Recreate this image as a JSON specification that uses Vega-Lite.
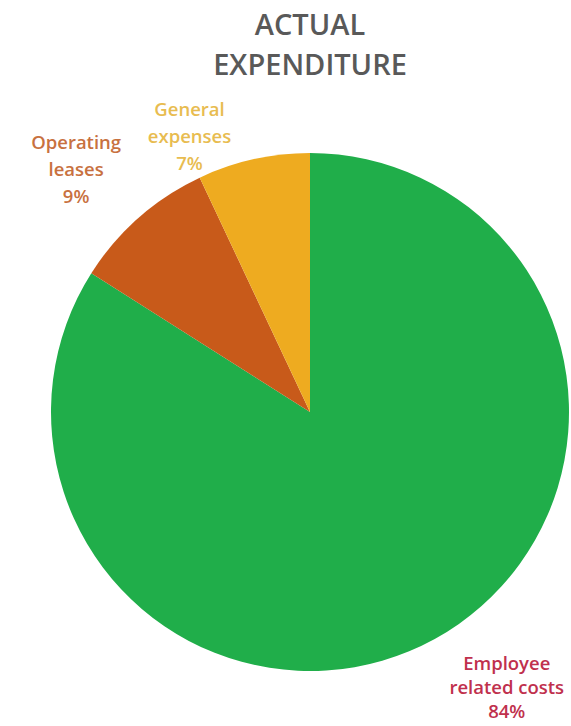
{
  "$schema": "https://vega.github.io/schema/vega-lite/v6.json",
  "autosize": "none",
  "width": 522,
  "height": 628,
  "padding": {"left": 49, "top": 98, "right": 0, "bottom": 0},
  "background": "white",
  "title": {
    "text": ["ACTUAL", "EXPENDITURE"],
    "font": "Open Sans",
    "fontSize": 29,
    "fontWeight": 600,
    "color": "#595959",
    "lineHeight": 40,
    "anchor": "middle",
    "offset": -60
  },
  "data": {
    "values": [
      {"category": "Employee related costs", "label": "Employee\nrelated costs\n84%", "value": 84},
      {"category": "Operating leases", "label": "Operating\nleases\n9%", "value": 9},
      {"category": "General expenses", "label": "General\nexpenses\n7%", "value": 7}
    ]
  },
  "view": {"stroke": null},
  "encoding": {
    "theta": {"field": "value", "type": "quantitative", "stack": true},
    "order": {"field": "value", "type": "quantitative", "sort": "descending"}
  },
  "layer": [
    {
      "mark": {"type": "arc", "outerRadius": 259},
      "encoding": {
        "color": {
          "field": "category",
          "type": "nominal",
          "scale": {
            "domain": ["Employee related costs", "Operating leases", "General expenses"],
            "range": ["#20ae4a", "#c85a1a", "#eeab20"]
          },
          "legend": null
        }
      }
    },
    {
      "mark": {"type": "text", "radius": 300, "dx": -55, "dy": -9, "font": "Open Sans", "fontSize": 18.5, "fontWeight": 600, "lineHeight": 27, "lineBreak": "\n", "color": "#e8bc50"},
      "encoding": {
        "text": {"condition": {"test": "datum.category === 'General expenses'", "field": "label"}, "value": ""}
      }
    },
    {
      "mark": {"type": "text", "radius": 337, "dx": -11, "dy": -16, "font": "Open Sans", "fontSize": 18.5, "fontWeight": 600, "lineHeight": 27, "lineBreak": "\n", "color": "#c8713f"},
      "encoding": {
        "text": {"condition": {"test": "datum.category === 'Operating leases'", "field": "label"}, "value": ""}
      }
    },
    {
      "mark": {"type": "text", "radius": 342, "dx": 32, "dy": -48, "font": "Open Sans", "fontSize": 18.5, "fontWeight": 600, "lineHeight": 24, "lineBreak": "\n", "color": "#c0304d"},
      "encoding": {
        "text": {"condition": {"test": "datum.category === 'Employee related costs'", "field": "label"}, "value": ""}
      }
    }
  ]
}
